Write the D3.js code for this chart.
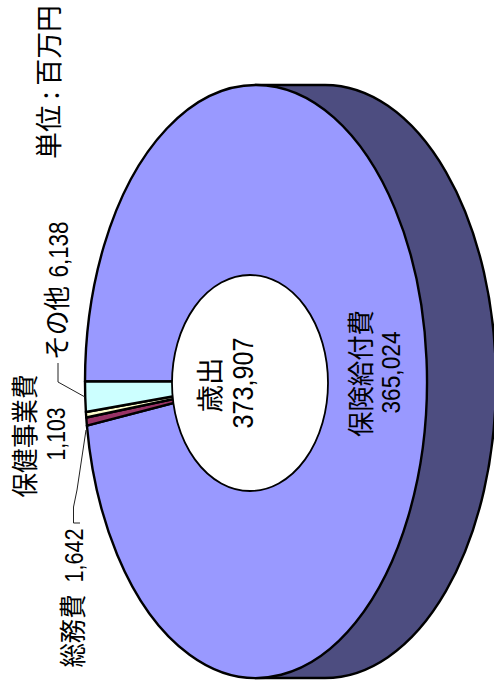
<!DOCTYPE html>
<html><head><meta charset="utf-8">
<script src="https://cdn.jsdelivr.net/npm/d3@7/dist/d3.min.js"></script>
<style>html,body{margin:0;padding:0;background:#fff}svg{display:block}
text{fill:#000;text-anchor:middle}</style>
</head><body><div id="c"></div>
<script>
const categories = ["保険給付費","総務費","保健事業費","その他"];
const values = [365024,1642,1103,6138];
const totalLabel = "歳出";
const totalValue = 373907;
const unitLabel = "単位 : 百万円";

const W=494,H=698;
const colors=["#9999ff","#993366","#ffffcc","#ccffff"];
const sideColor="#4d4d80";
const geom={cx:256,cy:381.5,rx:171,ry:296.5,depth:69,hx:250,hy:383,hrx:78,hry:108,sw:2.4};

const svg=d3.select("#c").append("svg").attr("width",W).attr("height",H);

// side of the disc
const sidePath=`M${geom.cx},${geom.cy-geom.ry}L${geom.cx+geom.depth},${geom.cy-geom.ry}`+
 `A${geom.rx},${geom.ry} 0 0 1 ${geom.cx+geom.depth},${geom.cy+geom.ry}L${geom.cx},${geom.cy+geom.ry}Z`;
svg.append("path").attr("d",sidePath).attr("fill",sideColor).attr("stroke","#000").attr("stroke-width",geom.sw);

// slices: pie squeezed horizontally, zero angle pointing left
const pie=d3.pie().sort(null).value(d=>d);
const arc=d3.arc().innerRadius(0).outerRadius(geom.ry);
const g=svg.append("g").attr("transform",`translate(${geom.cx},${geom.cy}) scale(${geom.rx/geom.ry},1) rotate(-90)`);
g.selectAll("path").data(pie(values)).join("path")
 .attr("d",arc).attr("fill",(d,i)=>colors[i]).attr("stroke","#000")
 .attr("stroke-width",geom.sw).attr("vector-effect","non-scaling-stroke").attr("stroke-linejoin","round");

// centre hole
svg.append("ellipse").attr("cx",geom.hx).attr("cy",geom.hy).attr("rx",geom.hrx).attr("ry",geom.hry)
 .attr("fill","#fff").attr("stroke","#000").attr("stroke-width",1.8);

// leader lines
const leaders=[
 [[58,363],[58,382],[85,397]],
 [[80,523],[73.5,523],[73.5,507],[77,490],[86,430]]
];
const line=d3.line();
svg.selectAll("path.leader").data(leaders).join("path").attr("class","leader")
 .attr("d",line).attr("fill","none").attr("stroke","#222").attr("stroke-width",1);

// text
const fmt=d3.format(",");
const CJK='"Noto Sans CJK JP",sans-serif', NUM='"Liberation Sans",sans-serif';
const texts=[
 {t:unitLabel,x:49.5,y:82,len:154,size:27,font:CJK},
 {t:totalLabel,x:210,y:385,len:55,size:27,font:CJK},
 {t:fmt(totalValue),x:243,y:383,len:91,size:29,font:NUM},
 {t:categories[0],x:361,y:373.5,len:127,size:27,font:CJK},
 {t:fmt(values[0]),x:390.5,y:372.5,len:82,size:25,font:NUM},
 {t:categories[3],x:57,y:323,len:74,size:27,font:CJK},
 {t:fmt(values[3]),x:58,y:249.5,len:56,size:28,font:NUM},
 {t:categories[2],x:25,y:436,len:123,size:27,font:CJK},
 {t:fmt(values[2]),x:56,y:434,len:53,size:26,font:NUM},
 {t:categories[1],x:73,y:631,len:73,size:27,font:CJK},
 {t:fmt(values[1]),x:74,y:555.5,len:54,size:26,font:NUM}
];
svg.selectAll("text").data(texts).join("text")
 .attr("transform",d=>`translate(${d.x},${d.y}) rotate(-90)`)
 .attr("dy","0.36em").attr("font-family",d=>d.font).attr("font-size",d=>d.size)
 .attr("textLength",d=>d.len).attr("lengthAdjust","spacingAndGlyphs").text(d=>d.t);
</script></body></html>
